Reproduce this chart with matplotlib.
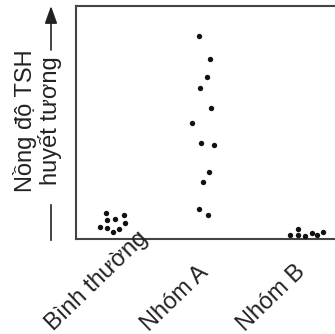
import matplotlib
matplotlib.use("Agg")
import matplotlib.pyplot as plt
import matplotlib.transforms as mtransforms
from matplotlib.patches import FancyArrowPatch

plt.rcParams["font.family"] = ["Liberation Sans", "DejaVu Sans"]

categories = ["Bình thường", "Nhóm A", "Nhóm B"]

# x = category index + small jitter, y = TSH level (arbitrary units)
normal_x = [-0.066, 0.122, -0.049, 0.031, -0.128, -0.049, 0.070, 0.132, 0.007]
normal_y = [25.6, 24.3, 18.6, 20.0, 11.6, 11.3, 10.3, 15.6, 7.0]

group_a_x = [-0.091, 0.024, -0.014, -0.080, 0.034, -0.164, -0.070, 0.063, 0.007, -0.052, -0.091, 0.000]
group_a_y = [202.6, 180.0, 162.0, 150.6, 130.6, 116.0, 95.3, 93.6, 67.3, 56.6, 30.0, 23.6]

group_b_x = [-0.146, -0.066, -0.066, 0.010, 0.080, 0.135, 0.195]
group_b_y = [4.0, 10.0, 3.6, 3.0, 6.0, 4.3, 7.0]

groups = [(normal_x, normal_y), (group_a_x, group_a_y), (group_b_x, group_b_y)]

W, H = 335, 334
left_px, right_px = 75.5, 338.0
unit_px, first_px = 96.0, 112.0   # pixels per category, centre of the first one

fig = plt.figure(figsize=(W / 100, H / 100), dpi=100)
ax = fig.add_axes([left_px / W, (H - 239) / H, (right_px - left_px) / W, (239 - 5.5) / H])

for i, (xs, ys) in enumerate(groups):
    ax.scatter([i + 1 + dx for dx in xs], ys, s=15, color="#111111",
               linewidths=0, zorder=3)

ax.set_xlim(1 - (first_px - left_px) / unit_px, 1 + (right_px - first_px) / unit_px)
ax.set_ylim(0, 233)
ax.set_xticks([])
ax.set_yticks([])
ax.spines["right"].set_visible(False)
for side in ["left", "top", "bottom"]:
    ax.spines[side].set_linewidth(1.5)
    ax.spines[side].set_color("#444444")

# rotated category labels, anchored at their start
trans = mtransforms.blended_transform_factory(ax.transData, fig.transFigure)
for i, name in enumerate(categories):
    ax.text(i + 1 - 0.61, 2.5 / H, name, transform=trans, rotation=44,
            rotation_mode="anchor", ha="left", va="baseline",
            fontsize=17, color="#222222", clip_on=False)

# y axis title with arrow
fig.text(32 / W, 1 - 121 / H, "Nồng độ TSH", rotation=90, rotation_mode="anchor",
         ha="center", va="baseline", fontsize=17, color="#222222")
fig.text(57 / W, 1 - 121 / H, "huyết tương", rotation=90, rotation_mode="anchor",
         ha="center", va="baseline", fontsize=17, color="#222222")
fig.add_artist(plt.Line2D([51 / W, 51 / W], [1 - 240 / H, 1 - 205 / H],
                          transform=fig.transFigure, color="#222222", lw=1.2))
fig.add_artist(FancyArrowPatch((51 / W, 1 - 50 / H), (51 / W, 1 - 6 / H),
                               transform=fig.transFigure, color="#222222",
                               lw=1.2, arrowstyle="-|>,head_length=0.7,head_width=0.25",
                               mutation_scale=15, shrinkA=0, shrinkB=0))

fig.savefig("out.png", dpi=100)
